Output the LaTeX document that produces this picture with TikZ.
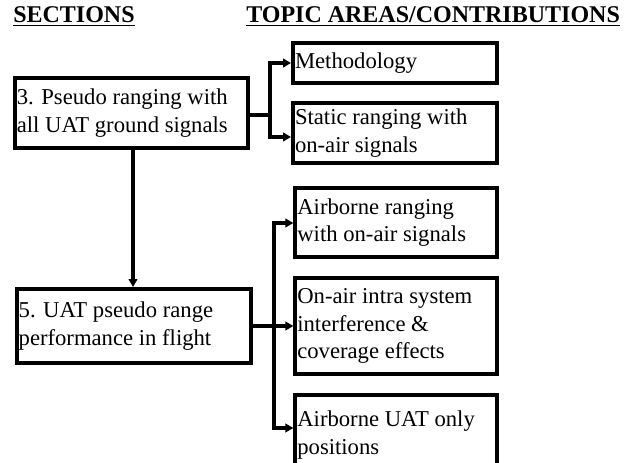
\documentclass[tikz,border=0pt]{standalone}
\usepackage{fontspec}
\setmainfont{Liberation Serif}
\usetikzlibrary{arrows.meta}
\begin{document}
\begin{tikzpicture}[x=0.75pt,y=-0.75pt,
  box/.style={draw=black,line width=3pt,rectangle,inner sep=1.5pt,align=flush left,
    font=\fontsize{17}{20.5}\selectfont,anchor=center},
  head/.style={anchor=base west,inner sep=0pt,font=\fontsize{18}{20}\selectfont\bfseries},
  conn/.style={line width=2.4pt},
  arr/.style={line width=2.4pt,-{Triangle[length=6pt,width=6.5pt]}}]
\useasboundingbox (0,0) rectangle (638,463);
\clip (0,0) rectangle (638,463);
\node[head] (hs) at (13,23) {\underline{SECTIONS}};
\node[head] (ht) at (246,23) {\underline{TOPIC AREAS/CONTRIBUTIONS}};
\node[box,text width=172pt,minimum height=52.5pt] (b3) at (131.5,113) {3. Pseudo ranging with\\all UAT ground signals};
\node[box,text width=150pt,minimum height=30pt] (m) at (395,63) {Methodology};
\node[box,text width=150pt,minimum height=45pt] (s) at (395,133) {Static ranging with\\on-air signals};
\node[box,text width=173pt,minimum height=55.5pt] (b5) at (134,326) {5. UAT pseudo range\\performance in flight};
\node[box,text width=148pt,minimum height=51.75pt] (a) at (396,222.5) {Airborne ranging\\with on-air signals};
\node[box,text width=148pt,minimum height=72pt] (o) at (396,326) {On-air intra system\\interference \&\\coverage effects};
\node[box,text width=148pt,minimum height=60pt] (u) at (396,435) {Airborne UAT only\\positions};
\coordinate (j1) at (270,115);
\coordinate (t1) at (270,63);
\coordinate (t2) at (270,137);
\draw[conn] (b3.east |- j1) -- (j1);
\draw[arr] (j1) -- (t1) -- (m.west |- t1);
\draw[arr] (j1) -- (t2) -- (s.west |- t2);
\draw[arr] (133,0 |- b3.south) -- (133,0 |- b5.north);
\coordinate (j2) at (274,326);
\coordinate (t3) at (274,223);
\coordinate (t4) at (274,428);
\draw[arr] (b5.east |- j2) -- (o.west |- j2);
\draw[arr] (j2) -- (t3) -- (a.west |- t3);
\draw[arr] (j2) -- (t4) -- (u.west |- t4);
\end{tikzpicture}
\end{document}
